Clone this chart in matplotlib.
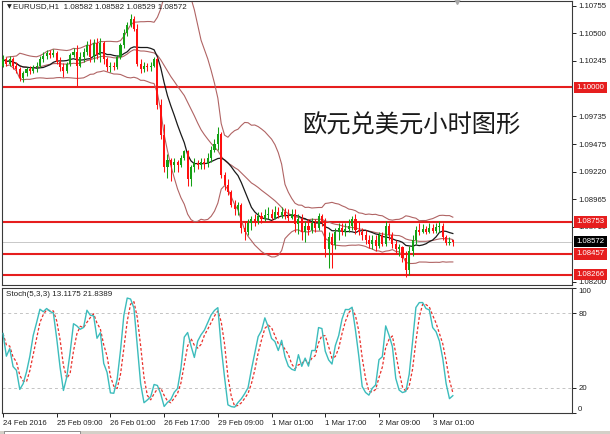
import numpy as np
import pandas as pd
import matplotlib
matplotlib.use("Agg")
import matplotlib.pyplot as plt
from matplotlib.patches import Rectangle

plt.rcParams['font.family'] = ['Liberation Sans', 'DejaVu Sans']

# EURUSD hourly bars (24 Feb 2016 17:00 onwards)
opens = [
    1.1020, 1.1026, 1.1022, 1.1026, 1.1020, 1.1017, 1.1009, 1.1013, 1.1017, 1.1015,
    1.1019, 1.1020, 1.1026, 1.1029, 1.1032, 1.1030, 1.1032, 1.1024, 1.1019, 1.1015,
    1.1022, 1.1030, 1.1033, 1.1020, 1.1028, 1.1033, 1.1039, 1.1028, 1.1041, 1.1030,
    1.1041, 1.1026, 1.1019, 1.1020, 1.1019, 1.1028, 1.1039, 1.1050, 1.1058, 1.1063,
    1.1054, 1.1022, 1.1017, 1.1020, 1.1019, 1.1020, 1.1026, 1.0984, 1.0956, 1.0926,
    1.0933, 1.0928, 1.0931, 1.0928, 1.0935, 1.0941, 1.0915, 1.0926, 1.0930, 1.0928,
    1.0931, 1.0929, 1.0935, 1.0942, 1.0948, 1.0957, 1.0919, 1.0910, 1.0903, 1.0891,
    1.0887, 1.0891, 1.0870, 1.0866, 1.0874, 1.0878, 1.0876, 1.0881, 1.0878, 1.0882,
    1.0883, 1.0879, 1.0885, 1.0882, 1.0885, 1.0881, 1.0879, 1.0883, 1.0873, 1.0878,
    1.0866, 1.0872, 1.0868, 1.0874, 1.0870, 1.0881, 1.0876, 1.0850, 1.0861, 1.0854,
    1.0866, 1.0870, 1.0866, 1.0869, 1.0872, 1.0878, 1.0868, 1.0866, 1.0863, 1.0859,
    1.0855, 1.0859, 1.0853, 1.0863, 1.0855, 1.0872, 1.0863, 1.0855, 1.0850, 1.0852,
    1.0842, 1.0831, 1.0848, 1.0859, 1.0868, 1.0866, 1.0869, 1.0866, 1.0870, 1.0867,
    1.0871, 1.0872, 1.0861, 1.0856, 1.08582,
]
highs = [
    1.1030, 1.1028, 1.1029, 1.1028, 1.1024, 1.1019, 1.1015, 1.1019, 1.1020, 1.1021,
    1.1024, 1.1029, 1.1033, 1.1035, 1.1035, 1.1036, 1.1034, 1.1028, 1.1023, 1.1024,
    1.1032, 1.1037, 1.1039, 1.1033, 1.1037, 1.1043, 1.1045, 1.1045, 1.1046, 1.1046,
    1.1043, 1.1028, 1.1024, 1.1024, 1.1030, 1.1041, 1.1054, 1.1061, 1.1068, 1.1066,
    1.1059, 1.1026, 1.1024, 1.1023, 1.1024, 1.1028, 1.1028, 1.0989, 1.0966, 1.0938,
    1.0935, 1.0935, 1.0933, 1.0937, 1.0942, 1.0942, 1.0928, 1.0935, 1.0933, 1.0935,
    1.0935, 1.0939, 1.0946, 1.0952, 1.0963, 1.0959, 1.0922, 1.0915, 1.0905, 1.0896,
    1.0894, 1.0893, 1.0876, 1.0878, 1.0881, 1.0883, 1.0885, 1.0885, 1.0887, 1.0889,
    1.0887, 1.0890, 1.0889, 1.0889, 1.0888, 1.0887, 1.0887, 1.0887, 1.0883, 1.0883,
    1.0876, 1.0878, 1.0879, 1.0878, 1.0884, 1.0883, 1.0879, 1.0866, 1.0865, 1.0870,
    1.0874, 1.0874, 1.0874, 1.0878, 1.0881, 1.0883, 1.0876, 1.0870, 1.0868, 1.0863,
    1.0863, 1.0863, 1.0866, 1.0866, 1.0876, 1.0874, 1.0866, 1.0859, 1.0855, 1.0853,
    1.0848, 1.0853, 1.0863, 1.0872, 1.0874, 1.0873, 1.0872, 1.0874, 1.0873, 1.0874,
    1.0876, 1.0874, 1.0863, 1.0861, 1.08582,
]
lows = [
    1.1019, 1.1020, 1.1020, 1.1017, 1.1013, 1.1006, 1.1005, 1.1011, 1.1012, 1.1013,
    1.1014, 1.1019, 1.1024, 1.1026, 1.1027, 1.1028, 1.1022, 1.1015, 1.1010, 1.1013,
    1.1020, 1.1028, 1.1001, 1.1019, 1.1024, 1.1030, 1.1024, 1.1024, 1.1026, 1.1024,
    1.1022, 1.1015, 1.1014, 1.1016, 1.1017, 1.1026, 1.1037, 1.1048, 1.1056, 1.1052,
    1.1020, 1.1013, 1.1014, 1.1015, 1.1015, 1.1019, 1.0980, 1.0952, 1.0922, 1.0916,
    1.0913, 1.0922, 1.0922, 1.0926, 1.0933, 1.0909, 1.0909, 1.0922, 1.0924, 1.0924,
    1.0924, 1.0926, 1.0931, 1.0940, 1.0942, 1.0916, 1.0905, 1.0900, 1.0889, 1.0882,
    1.0882, 1.0865, 1.0859, 1.0863, 1.0868, 1.0872, 1.0873, 1.0874, 1.0876, 1.0878,
    1.0877, 1.0878, 1.0879, 1.0879, 1.0878, 1.0876, 1.0878, 1.0866, 1.0864, 1.0859,
    1.0857, 1.0863, 1.0865, 1.0866, 1.0868, 1.0872, 1.0843, 1.0833, 1.0833, 1.0850,
    1.0859, 1.0863, 1.0862, 1.0866, 1.0868, 1.0864, 1.0863, 1.0859, 1.0855, 1.0851,
    1.0850, 1.0848, 1.0851, 1.0853, 1.0853, 1.0859, 1.0851, 1.0846, 1.0844, 1.0838,
    1.0824, 1.0826, 1.0844, 1.0855, 1.0863, 1.0865, 1.0864, 1.0865, 1.0865, 1.0865,
    1.0866, 1.0859, 1.0854, 1.0854, 1.08529,
]
closes = [
    1.1026, 1.1022, 1.1026, 1.1020, 1.1017, 1.1009, 1.1013, 1.1017, 1.1015, 1.1019,
    1.1020, 1.1026, 1.1029, 1.1032, 1.1030, 1.1032, 1.1024, 1.1019, 1.1015, 1.1022,
    1.1030, 1.1033, 1.1020, 1.1028, 1.1033, 1.1039, 1.1028, 1.1041, 1.1030, 1.1041,
    1.1026, 1.1019, 1.1020, 1.1019, 1.1028, 1.1039, 1.1050, 1.1058, 1.1063, 1.1054,
    1.1022, 1.1017, 1.1020, 1.1019, 1.1020, 1.1026, 1.0984, 1.0956, 1.0926, 1.0933,
    1.0928, 1.0931, 1.0928, 1.0935, 1.0941, 1.0915, 1.0926, 1.0930, 1.0928, 1.0931,
    1.0929, 1.0935, 1.0942, 1.0948, 1.0957, 1.0919, 1.0910, 1.0903, 1.0891, 1.0887,
    1.0891, 1.0870, 1.0866, 1.0874, 1.0878, 1.0876, 1.0881, 1.0878, 1.0882, 1.0883,
    1.0879, 1.0885, 1.0882, 1.0885, 1.0881, 1.0879, 1.0883, 1.0873, 1.0878, 1.0866,
    1.0872, 1.0868, 1.0874, 1.0870, 1.0881, 1.0876, 1.0850, 1.0861, 1.0854, 1.0866,
    1.0870, 1.0866, 1.0869, 1.0872, 1.0878, 1.0868, 1.0866, 1.0863, 1.0859, 1.0855,
    1.0859, 1.0853, 1.0863, 1.0855, 1.0872, 1.0863, 1.0855, 1.0850, 1.0852, 1.0842,
    1.0831, 1.0848, 1.0859, 1.0868, 1.0866, 1.0869, 1.0866, 1.0870, 1.0867, 1.0871,
    1.0872, 1.0861, 1.0856, 1.0857, 1.08572,
]

time_labels = ["24 Feb 2016", "25 Feb 09:00", "26 Feb 01:00", "26 Feb 17:00",
               "29 Feb 09:00", "1 Mar 01:00", "1 Mar 17:00", "2 Mar 09:00",
               "3 Mar 01:00"]
time_label_bars = [0, 16, 32, 48, 64, 80, 96, 112, 128]

# scale labels (1.10000 is shown by its level tag instead)
price_ticks = [1.10755, 1.10500, 1.10245, 1.09735, 1.09475,
               1.09220, 1.08965, 1.08710, 1.08200]
level_lines = [1.10000, 1.08753, 1.08457, 1.08266]
last_price = 1.08572
stoch_ticks = [0, 20, 80, 100]
stoch_levels = [20, 80]
stoch_caption = "Stoch(5,3,3) 13.1175 21.8389"
header = "EURUSD,H1  1.08582 1.08582 1.08529 1.08572"
note = "欧元兑美元小时图形"

BULL = "#14a014"
BEAR = "#ff1010"
BAND = "#b06464"
LEVEL = "#e61e1e"

o, h, l, c = (np.array(v, dtype=float) for v in (opens, highs, lows, closes))
n = len(c)
idx = np.arange(n)

# indicators computed from the bars
cs = pd.Series(c)
mid = cs.rolling(20, min_periods=2).mean()
sd = cs.rolling(20, min_periods=2).std(ddof=0)
upper, lower = mid + 2 * sd, mid - 2 * sd
ma = cs.rolling(10, min_periods=1).mean()

hh = pd.Series(h).rolling(5, min_periods=1).max()
ll = pd.Series(l).rolling(5, min_periods=1).min()
k_line = 100 * (cs - ll).rolling(3, min_periods=1).sum() / (hh - ll).rolling(3, min_periods=1).sum()
d_line = k_line.rolling(3, min_periods=1).mean()

W, H = 610, 434
fig = plt.figure(figsize=(W / 100, H / 100), dpi=100)
fig.patch.set_facecolor("white")


def box(x0, y0, x1, y1):
    return [x0 / W, 1 - y1 / H, (x1 - x0) / W, (y1 - y0) / H]


ax = fig.add_axes(box(2, 1, 572, 285))
ax2 = fig.add_axes(box(2, 288, 572, 413), sharex=ax)

# ---- price panel ----
ax.axhline(last_price, color="#c8c8c8", lw=0.7, zorder=0.5)
for lv in level_lines:
    ax.axhline(lv, color=LEVEL, lw=1.5, zorder=1)

ax.plot(idx, upper, color=BAND, lw=0.8, zorder=2)
ax.plot(idx, lower, color=BAND, lw=0.8, zorder=2)
ax.plot(idx, mid, color=BAND, lw=0.8, zorder=2)
ax.plot(idx, ma, color="#1a1a1a", lw=0.9, zorder=2.2)

col = np.where(c >= o, BULL, BEAR)
ax.vlines(idx, l, h, colors=col, lw=0.75, zorder=3)
ax.bar(idx, np.maximum(np.abs(c - o), 0.000012), bottom=np.minimum(o, c),
       width=0.62, color=col, linewidth=0, zorder=3)

ax.set_xlim(-0.3, 169.5)
ax.set_ylim(1.08169, 1.10801)
ax.yaxis.tick_right()
ax.set_yticks(price_ticks)
ax.set_yticklabels([f"{v:.5f}" for v in price_ticks])
ax.tick_params(axis="y", direction="out", length=3, width=0.7, pad=1.5,
               labelsize=5.6, colors="#202020")
ax.tick_params(axis="x", bottom=False, labelbottom=False)
for sp in ax.spines.values():
    sp.set_color("#3a3a3a")
    sp.set_linewidth(0.8)

lab_x = 1.0 + 4.5 / 570
for lv in level_lines:
    ax.text(lab_x, lv, f"{lv:.5f}", transform=ax.get_yaxis_transform(),
            ha="left", va="center", fontsize=5.6, color="white", zorder=6,
            bbox=dict(boxstyle="square,pad=0.28", fc=LEVEL, ec="none"),
            clip_on=False)
ax.text(lab_x, last_price, f"{last_price:.5f}", transform=ax.get_yaxis_transform(),
        ha="left", va="center", fontsize=5.6, color="white", zorder=6,
        bbox=dict(boxstyle="square,pad=0.28", fc="black", ec="none"),
        clip_on=False)

ax.text(5 / 570, 1 - 6 / 284, "▼", transform=ax.transAxes, fontsize=4.5,
        ha="left", va="center", color="#202020", family=["DejaVu Sans"])
ax.text(11 / 570, 1 - 6 / 284, header, transform=ax.transAxes, fontsize=5.8,
        ha="left", va="center", color="#202020")
ax.text((302 - 2) / 570, (285 - 126) / 284, note, transform=ax.transAxes,
        fontsize=17.5, ha="left", va="center", color="#1a1a1a",
        family=["Noto Sans CJK SC", "DejaVu Sans"])

# chart-shift marker on the top edge
ax.plot([(457 - 3) / 3.357], [1.0], marker="v", ms=4.5, color="#a8a8a8",
        transform=ax.get_xaxis_transform(), clip_on=False, zorder=7)

# ---- stochastic panel ----
for lv in stoch_levels:
    ax2.axhline(lv, color="#c4c4c4", lw=0.7, ls=(0, (3, 3)), zorder=1)
ax2.plot(idx, k_line, color="#3cbcbc", lw=1.0, zorder=3)
ax2.plot(idx, d_line, color="#e8302a", lw=0.9, ls=(0, (2.2, 1.6)), zorder=2)
ax2.set_ylim(0, 100)
ax2.yaxis.tick_right()
ax2.set_yticks(stoch_ticks)
ax2.set_yticklabels([str(v) for v in stoch_ticks])
ax2.tick_params(axis="y", direction="out", length=3, width=0.7, pad=1.5,
                labelsize=5.6, colors="#202020")
for t in ax2.get_yticklabels():
    if t.get_text() == "100":
        t.set_va("top")
    elif t.get_text() == "0":
        t.set_va("bottom")
ax2.set_xticks(time_label_bars)
ax2.set_xticklabels(time_labels)
ax2.tick_params(axis="x", direction="out", length=3, width=0.7, pad=2,
                labelsize=5.6, colors="#202020")
for t in ax2.get_xticklabels():
    t.set_ha("left")
for sp in ax2.spines.values():
    sp.set_color("#3a3a3a")
    sp.set_linewidth(0.8)
ax2.text(4 / 570, 1 - 7 / 125, stoch_caption, transform=ax2.transAxes,
         fontsize=5.8, ha="left", va="center", color="#202020")

# window tab strip along the bottom edge
fig.patches.append(Rectangle((0, 0), 1, 3.5 / H, transform=fig.transFigure,
                             fc="#d4d0c8", ec="none"))
fig.patches.append(Rectangle((4 / W, 0), 76 / W, 3.5 / H, transform=fig.transFigure,
                             fc="white", ec="#808080", lw=0.6))

fig.savefig("out.png", dpi=100)
